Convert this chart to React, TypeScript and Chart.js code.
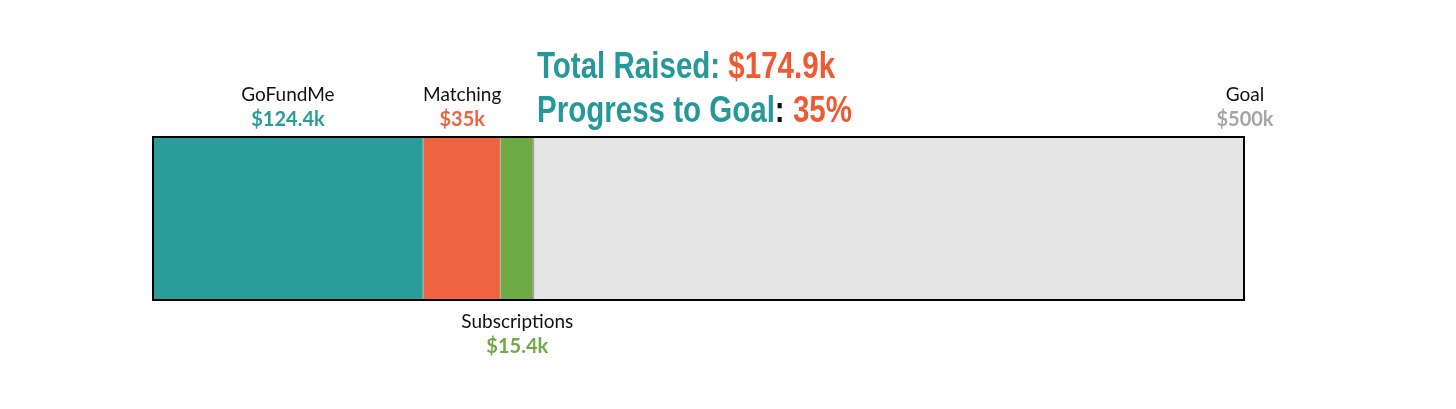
import React, { useEffect, useRef } from "react";
import { Chart, registerables } from "chart.js";

Chart.register(...registerables);

const categories = ["Raised"];
const sourceNames = ["GoFundMe", "Matching", "Subscriptions", "Remaining"];
const sourceValues = [124.4, 35, 15.4, 325.1];
const sourceLabels = ["$124.4k", "$35k", "$15.4k", ""];
const goalValue = 500;
const goalLabel = "$500k";
const totalLabel = "$174.9k";
const progressLabel = "35%";

const TEAL = "#2a9d9a";
const ORANGE = "#ee6441";
const GREEN = "#6fab45";
const LIGHT = "#e5e5e5";
const SEP = "#a5a5a5";
const TITLE_TEAL = "#25999a";
const TITLE_ORANGE = "#f05a32";

const LABEL_FONT = "Lato, 'Open Sans', sans-serif";
const TITLE_FONT = "'Liberation Sans', Arial, sans-serif";

const overlayPlugin = {
  id: "overlay",
  afterDatasetsDraw(chart: any) {
    const { ctx, chartArea } = chart;
    const x = chart.scales.x;
    ctx.save();
    // outer frame
    ctx.strokeStyle = "#000";
    ctx.lineWidth = 2;
    ctx.strokeRect(chartArea.left + 1, chartArea.top + 1, chartArea.right - chartArea.left - 2, chartArea.bottom - chartArea.top - 2);

    // segment labels
    let cum = 0;
    const centers: number[] = [];
    sourceValues.forEach((v) => {
      centers.push((x.getPixelForValue(cum) + x.getPixelForValue(cum + v)) / 2);
      cum += v;
    });
    ctx.textAlign = "center";
    ctx.textBaseline = "alphabetic";
    const drawPair = (cx: number, y1: number, name: string, val: string, color: string) => {
      ctx.font = `19px ${LABEL_FONT}`;
      ctx.fillStyle = "#111";
      ctx.fillText(name, cx, y1);
      ctx.font = `bold 20px ${LABEL_FONT}`;
      ctx.fillStyle = color;
      ctx.fillText(val, cx, y1 + 25);
    };
    const top = chartArea.top;
    const bottom = chartArea.bottom;
    drawPair(centers[0], top - 35, sourceNames[0], sourceLabels[0], TEAL);
    drawPair(centers[1], top - 35, sourceNames[1], sourceLabels[1], ORANGE);
    drawPair(centers[2], bottom + 27, sourceNames[2], sourceLabels[2], GREEN);
    drawPair(x.getPixelForValue(goalValue), top - 35, "Goal", goalLabel, "#a6a6a6");

    // title (condensed bold)
    const drawRuns = (x0: number, y: number, runs: [string, string][]) => {
      ctx.save();
      ctx.translate(x0, y);
      ctx.scale(0.82, 1);
      ctx.textAlign = "left";
      ctx.font = `bold 36px ${TITLE_FONT}`;
      let cx = 0;
      runs.forEach(([t, c]) => {
        ctx.fillStyle = c;
        ctx.fillText(t, cx, 0);
        cx += ctx.measureText(t).width;
      });
      ctx.restore();
    };
    drawRuns(537, 78, [["Total Raised: ", TITLE_TEAL], [totalLabel, TITLE_ORANGE]]);
    drawRuns(537, 122, [["Progress to Goal", TITLE_TEAL], [": ", "#111"], [progressLabel, TITLE_ORANGE]]);
    ctx.restore();
  },
};

export default function App() {
  const ref = useRef<HTMLCanvasElement>(null);
  useEffect(() => {
    if (!ref.current) return;
    const colors = [TEAL, ORANGE, GREEN, LIGHT];
    const seps = [2, 1, 2, 0];
    const chart = new Chart(ref.current, {
      type: "bar",
      data: {
        labels: categories,
        datasets: sourceNames.map((n, i) => ({
          label: n,
          data: [sourceValues[i]],
          backgroundColor: colors[i],
          borderColor: SEP,
          borderWidth: { left: 0, top: 0, bottom: 0, right: seps[i] },
          borderSkipped: false,
          barPercentage: 1,
          categoryPercentage: 1,
        })),
      },
      options: {
        indexAxis: "y",
        responsive: false,
        animation: false,
        layout: { padding: { left: 152, right: 211, top: 136, bottom: 108 } },
        plugins: { legend: { display: false }, tooltip: { enabled: false }, title: { display: false } },
        scales: {
          x: { stacked: true, min: 0, max: goalValue, display: false },
          y: { stacked: true, display: false },
        },
      },
      plugins: [overlayPlugin],
    } as any);
    return () => chart.destroy();
  }, []);
  return (
    <div style={{ position: "fixed", left: 0, top: 0, width: 1456, height: 409, background: "#fff" }}>
      <canvas ref={ref} width={1456} height={409} />
    </div>
  );
}
